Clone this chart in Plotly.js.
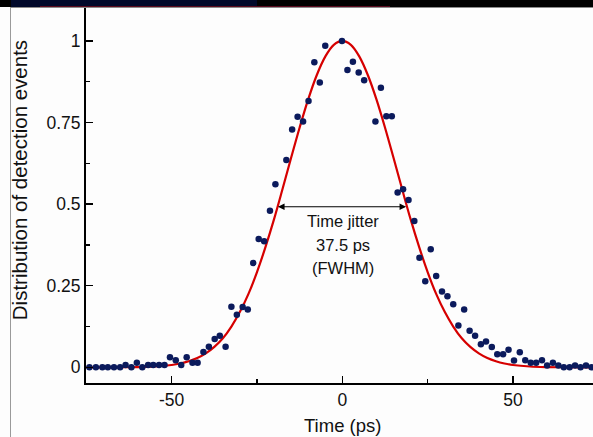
<!DOCTYPE html>
<html>
<head>
<meta charset="utf-8">
<script src="https://cdn.plot.ly/plotly-3.0.1.min.js"></script>
<style>
html,body{margin:0;padding:0;background:#fdfdfd;}
#wrap{position:relative;width:593px;height:437px;background:#fdfdfd;overflow:hidden;}
#plot{position:absolute;left:0;top:0;width:593px;height:437px;}
.ov{position:absolute;pointer-events:none;}
</style>
</head>
<body>
<div id="wrap">
  <div id="plot"></div>
  <div class="ov" style="left:0;top:0;width:593px;height:7px;background:#000;"></div>
  <div class="ov" style="left:11px;top:0;width:246px;height:7px;background:#00082a;"></div>
  <div class="ov" style="left:40px;top:6px;width:350px;height:1px;background:#5a0a1e;"></div>
  <div class="ov" style="left:10px;top:7px;width:583px;height:1px;background:#8a8a8a;"></div>
  <div class="ov" style="left:10px;top:7px;width:1px;height:430px;background:#9a9a9a;"></div>
</div>
<script>
// Measured detection events (time in ps, normalised counts)
const timePs = [-74.1,-72.2,-70.3,-68.7,-66.9,-65.1,-63.5,-61.8,-60.2,-58.6,-56.9,-55.4,-53.7,-52.1,-50.5,-48.8,-47.2,-45.6,-43.9,-42.4,
  -40.7,-39.1,-37.4,-35.9,-34.2,-32.5,-30.9,-29.2,-27.7,-26.1,-24.5,-22.9,-21.2,-19.6,-16.4,-14.7,-13.1,-11.5,-9.9,-8.2,-6.6,-5.0,
  -0.1,1.5,3.1,4.8,6.4,9.7,11.3,12.9,14.5,16.2,17.8,19.4,21.1,22.6,24.3,25.9,27.5,29.2,30.8,32.5,34.0,35.7,37.3,38.9,40.6,42.1,43.8,
  45.4,47.1,48.7,50.3,52.0,53.6,55.2,56.8,58.5,60.0,61.7,63.3,64.9,66.6,68.2,69.8,71.4,73.0];
const counts = [0,0,0,0,0,0,0.007,0,0.014,0,0.007,0.007,0.007,0.007,0.031,0.022,0.007,0.031,0.014,0.014,
  0.047,0.063,0.087,0.097,0.063,0.186,0.161,0.185,0.177,0.320,0.393,0.386,0.480,0.561,0.635,0.729,0.768,0.753,0.816,0.935,0.873,0.985,
  1.0,0.911,0.936,0.903,0.880,0.753,0.857,0.769,0.769,0.536,0.546,0.513,0.448,0.336,0.264,0.362,0.280,0.232,0.218,0.193,0.128,0.177,0.112,
  0.097,0.071,0.079,0.062,0.040,0.040,0.054,0.021,0.046,0.022,0.014,0.014,0.022,0.006,0.014,0.006,0,0,0.006,0,0.006,0];

// Gaussian fit curve
const fitTime = [-75,-70,-65,-60,-55,-50,-47.5,-45,-42.5,-40,-37.5,-35,-32.5,-30,-27.5,-25,-22.5,-20,-17.5,-15,-12.5,-10,-7.5,-5,-2.5,
  0,2.5,5,7.5,10,12.5,15,17.5,20,22.5,25,27.5,30,32.5,35,37.5,40,42.5,45,47.5,50,55,60,65,70,75];
const fitValue = [0,0,0.0002,0.0008,0.0026,0.0072,0.0117,0.0185,0.0284,0.0427,0.0625,0.089,0.125,0.170,0.225,0.292,0.369,0.454,0.547,0.642,0.735,0.821,0.895,0.952,0.988,
  1,0.988,0.952,0.895,0.821,0.735,0.642,0.547,0.454,0.369,0.292,0.225,0.170,0.125,0.089,0.0625,0.0427,0.0284,0.0185,0.0117,0.0072,0.0026,0.0008,0.0002,0,0];

const xTicks = [-50, 0, 50];
const xTickText = ['-50', '0', '50'];
const yTicks = [0, 0.25, 0.5, 0.75, 1];
const yTickText = ['0', '0.25', '0.5', '0.75', '1'];
const fwhmStart = -19.3, fwhmEnd = 18.7, fwhmLevel = 0.492;
const jitterLines = ['Time jitter', '37.5 ps', '(FWHM)'];
const jitterLineY = [0.447, 0.375, 0.304];

const font = 'Liberation Sans, Arial, sans-serif';

const traces = [
  {x: fitTime, y: fitValue, type: 'scatter', mode: 'lines', line: {color: '#d60000', width: 2.2, shape: 'spline'}, hoverinfo: 'skip'},
  {x: timePs, y: counts, type: 'scatter', mode: 'markers', marker: {color: '#0b1a5c', size: 6.5}}
];

const annotations = [
  {x: fwhmEnd, y: fwhmLevel, ax: fwhmStart, ay: fwhmLevel, xref: 'x', yref: 'y', axref: 'x', ayref: 'y',
   text: '', showarrow: true, arrowside: 'start+end', arrowhead: 2, arrowsize: 1.2, arrowwidth: 1.1, arrowcolor: '#000'},
  {x: 0.505, y: -0.112, xref: 'paper', yref: 'paper', text: 'Time (ps)', showarrow: false,
   font: {family: font, size: 18.5, color: '#111'}, xanchor: 'center', yanchor: 'middle'},
  {x: -0.132, y: 0.541, xref: 'paper', yref: 'paper', text: 'Distribution of detection events', showarrow: false, textangle: -90,
   font: {family: font, size: 20.5, color: '#111'}, xanchor: 'center', yanchor: 'middle'}
];
jitterLines.forEach((t, i) => annotations.push({
  x: 0.3, y: jitterLineY[i], xref: 'x', yref: 'y', text: t, showarrow: false,
  font: {family: font, size: 16.5, color: '#111'}, xanchor: 'center', yanchor: 'middle'
}));

const layout = {
  width: 593, height: 437,
  margin: {l: 86, r: 0, t: 8, b: 54, pad: 0},
  paper_bgcolor: 'rgba(0,0,0,0)', plot_bgcolor: 'rgba(0,0,0,0)',
  showlegend: false,
  xaxis: {range: [-75.1, 73.45], tickvals: xTicks, ticktext: xTickText, ticks: 'inside', ticklen: 7, tickwidth: 1.5, tickcolor: '#000',
    showline: true, linecolor: '#000', linewidth: 2, showgrid: false, zeroline: false,
    tickfont: {family: font, size: 17.5, color: '#111'},
    minor: {tickvals: [-25, 25], ticks: 'inside', ticklen: 4, tickwidth: 1.2, tickcolor: '#000'}},
  yaxis: {range: [-0.048, 1.101], tickvals: yTicks, ticktext: yTickText, ticks: 'inside', ticklen: 7, tickwidth: 1.5, tickcolor: '#000',
    showline: true, linecolor: '#000', linewidth: 2, showgrid: false, zeroline: false,
    tickfont: {family: font, size: 17.5, color: '#111'},
    minor: {tickvals: [0.125, 0.375, 0.625, 0.875], ticks: 'inside', ticklen: 4, tickwidth: 1.2, tickcolor: '#000'}},
  annotations: annotations
};

Plotly.newPlot('plot', traces, layout, {displayModeBar: false, staticPlot: true});
</script>
</body>
</html>
